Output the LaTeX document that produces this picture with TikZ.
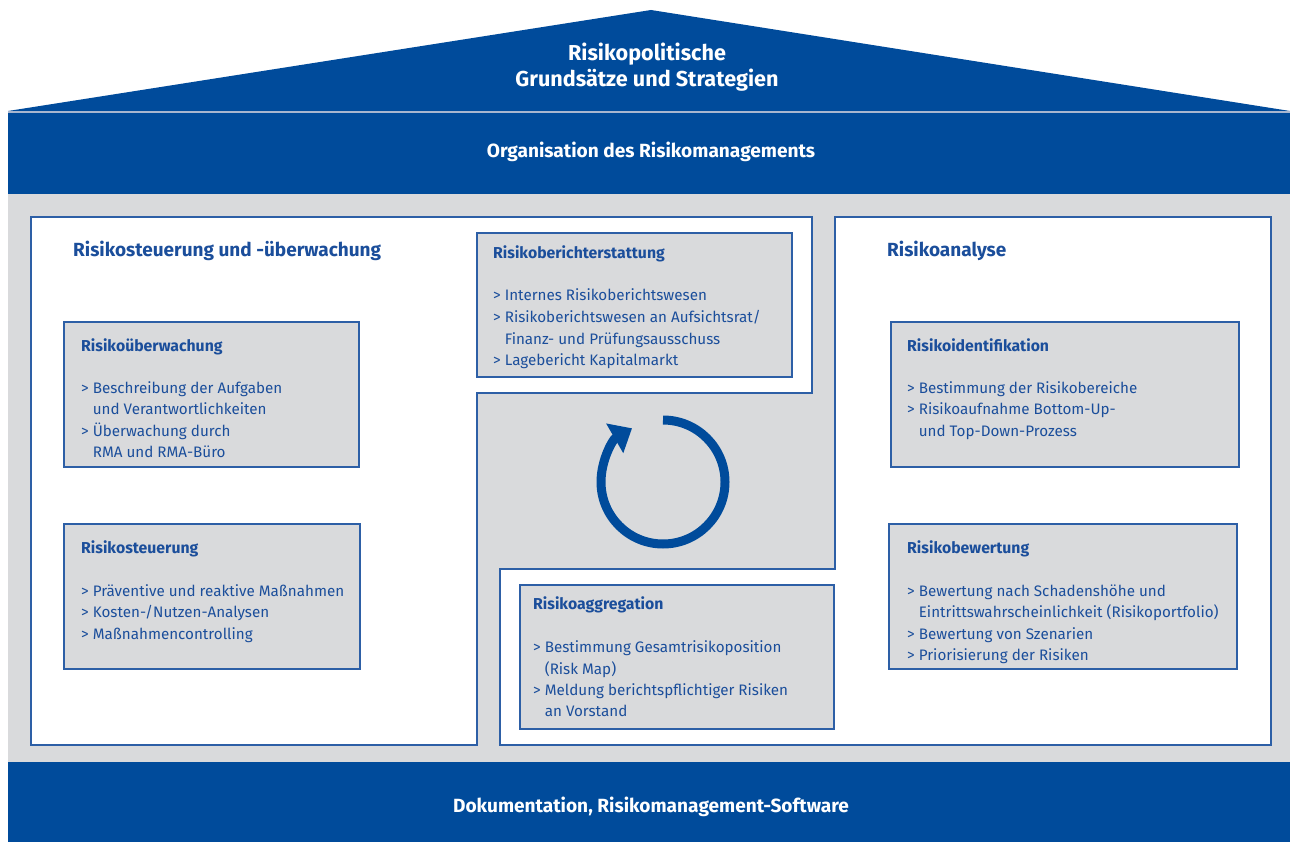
\documentclass[tikz,border=0pt]{standalone}
\usepackage{fontspec}
\setmainfont{Fira Sans}
\usetikzlibrary{arrows.meta}
\definecolor{hblue}{HTML}{004B9B}
\definecolor{hgray}{HTML}{D9DADC}
\definecolor{lineblue}{HTML}{2D5FA6}
\definecolor{txtblue}{HTML}{1B4E9B}
\definecolor{sepline}{HTML}{A8B6CF}
\begin{document}
\begin{tikzpicture}[x=1pt,y=-1pt,
  panel/.style={fill=white,draw=lineblue,line width=1.3pt},
  boxst/.style={fill=hgray,draw=lineblue,line width=1.3pt,anchor=north west,outer sep=0pt,inner sep=0pt},
  itm/.style={anchor=base west,inner sep=0pt,text=txtblue,font=\fontsize{15.2}{18}\selectfont},
  ttl/.style={anchor=base west,inner sep=0pt,text=txtblue,font=\fontsize{15.8}{18}\selectfont\bfseries},
  head/.style={anchor=base west,inner sep=0pt,text=txtblue,font=\fontsize{19}{22}\selectfont\bfseries},
  band/.style={anchor=base,inner sep=0pt,text=white,font=\fontsize{19.1}{22}\selectfont\bfseries},
  rooftxt/.style={anchor=base,inner sep=0pt,text=white,font=\fontsize{21.6}{25}\selectfont\bfseries},
]
\useasboundingbox (0,0) rectangle (1290,842);
\fill[white] (0,0) rectangle (1290,842);
% roof and bands
\fill[hblue] (8,111) -- (651,10) -- (1290,111) -- cycle;
\fill[hblue] (8,113) rectangle (1290,194);
\draw[sepline,line width=1.5pt] (8,111.8) -- (1290,111.8);
\fill[hgray] (8,194) rectangle (1290,762);
\fill[hblue] (8,762) rectangle (1290,842);
\node[rooftxt] (r1) at (647,61) {Risikopolitische};
\node[rooftxt] (r2) at (647,87) {Grundsätze und Strategien};
\node[band] (org) at (651,158) {Organisation des Risikomanagements};
\node[band] (doc) at (651,812) {Dokumentation, Risikomanagement-Software};
% panels
\draw[panel] (31,217) -- (812,217) -- (812,393) -- (477,393) -- (477,745) -- (31,745) -- cycle;
\draw[panel] (835,217) -- (1271,217) -- (1271,745) -- (500,745) -- (500,569) -- (835,569) -- cycle;
\node[head] (hl) at (73,257) {Risikosteuerung und -überwachung};
\node[head] (hr) at (887,257) {Risikoanalyse};
% boxes
\node[boxst,minimum width=295pt,minimum height=145pt] (rue) at (64,322) {};
\node[boxst,minimum width=296pt,minimum height=145pt] (rst) at (64,524) {};
\node[boxst,minimum width=315pt,minimum height=144pt] (rbe) at (477,233) {};
\node[boxst,minimum width=314pt,minimum height=144pt] (rag) at (520,585) {};
\node[boxst,minimum width=348pt,minimum height=145pt] (rid) at (891,322) {};
\node[boxst,minimum width=348pt,minimum height=145pt] (rbw) at (889,524) {};
% Risikoueberwachung
\node[ttl] (t1) at (81,351) {Risikoüberwachung};
\node[itm] (t1a) at (81,393) {> Beschreibung der Aufgaben};
\node[itm] (t1b) at (81,414.5) {\hphantom{> }und Verantwortlichkeiten};
\node[itm] (t1c) at (81,436) {> Überwachung durch};
\node[itm] (t1d) at (81,457) {\hphantom{> }RMA und RMA-Büro};
% Risikosteuerung
\node[ttl] (t2) at (81,553) {Risikosteuerung};
\node[itm] (t2a) at (81,596) {> Präventive und reaktive Maßnahmen};
\node[itm] (t2b) at (81,617.5) {> Kosten-/Nutzen-Analysen};
\node[itm] (t2c) at (81,639) {> Maßnahmencontrolling};
% Risikoberichterstattung
\node[ttl] (t3) at (493,258.5) {Risikoberichterstattung};
\node[itm] (t3a) at (493,301) {> Internes Risikoberichtswesen};
\node[itm] (t3b) at (493,322.5) {> Risikoberichtswesen an Aufsichtsrat/};
\node[itm] (t3c) at (493,344) {\hphantom{> }Finanz- und Prüfungsausschuss};
\node[itm] (t3d) at (493,365.5) {> Lagebericht Kapitalmarkt};
% Risikoaggregation
\node[ttl] (t4) at (533,609.5) {Risikoaggregation};
\node[itm] (t4a) at (533,652.5) {> Bestimmung Gesamtrisikoposition};
\node[itm] (t4b) at (533,674) {\hphantom{> }(Risk Map)};
\node[itm] (t4c) at (533,695) {> Meldung berichtspflichtiger Risiken};
\node[itm] (t4d) at (533,716.5) {\hphantom{> }an Vorstand};
% Risikoidentifikation
\node[ttl] (t5) at (907,351) {Risikoidentifikation};
\node[itm] (t5a) at (907,393) {> Bestimmung der Risikobereiche};
\node[itm] (t5b) at (907,414.5) {> Risikoaufnahme Bottom-Up-};
\node[itm] (t5c) at (907,436) {\hphantom{> }und Top-Down-Prozess};
% Risikobewertung
\node[ttl] (t6) at (907,553) {Risikobewertung};
\node[itm] (t6a) at (907,596) {> Bewertung nach Schadenshöhe und};
\node[itm] (t6b) at (907,617.5) {\hphantom{> }Eintrittswahrscheinlichkeit (Risikoportfolio)};
\node[itm] (t6c) at (907,639) {> Bewertung von Szenarien};
\node[itm] (t6d) at (907,660.5) {> Priorisierung der Risiken};
% cycle arrow
\coordinate (cs) at (663,420);
\draw[hblue,line width=9pt,-{Triangle[length=20pt,width=33pt]}] (cs) arc[start angle=-90,end angle=240,radius=62];
\end{tikzpicture}
\end{document}
